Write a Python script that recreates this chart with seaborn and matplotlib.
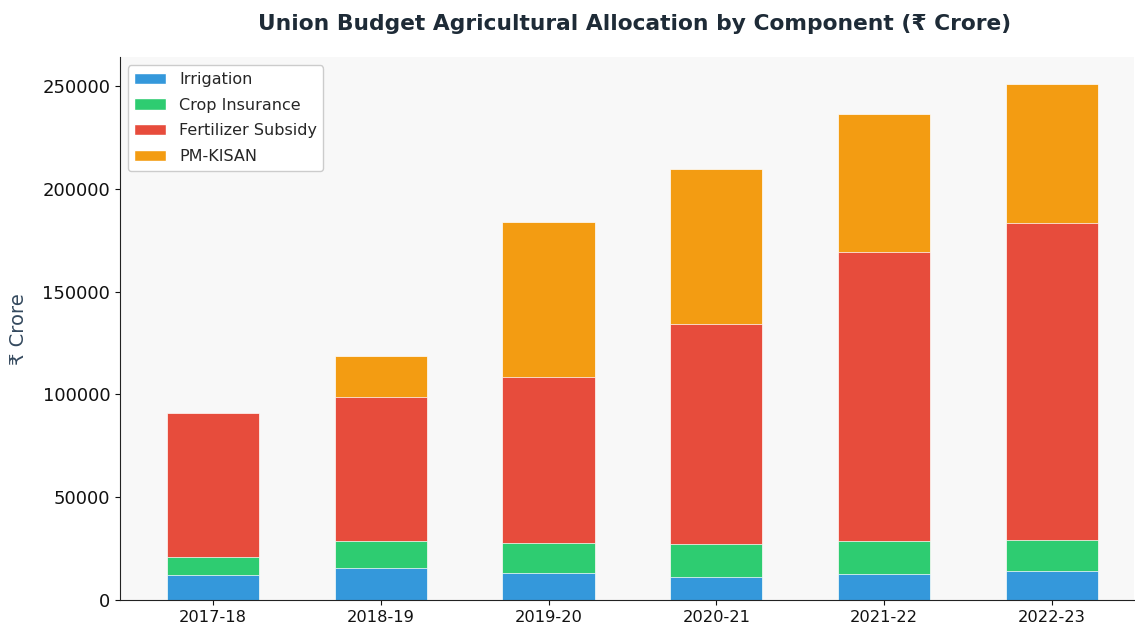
import matplotlib
matplotlib.use("Agg")
import matplotlib.pyplot as plt
import seaborn as sns
import numpy as np
import pandas as pd
from matplotlib.patches import Patch

years = ["2017-18", "2018-19", "2019-20", "2020-21", "2021-22", "2022-23"]
irrigation = [12000, 15800, 13200, 11200, 12700, 14000]
crop_insurance = [9000, 12700, 14500, 16000, 16000, 15200]
fertilizer_subsidy = [70000, 70300, 81000, 107000, 140400, 154000]
pm_kisan = [0, 20000, 75000, 75300, 67300, 68000]

series_names = ["Irrigation", "Crop Insurance", "Fertilizer Subsidy", "PM-KISAN"]
series_values = [irrigation, crop_insurance, fertilizer_subsidy, pm_kisan]
colors = ["#3498db", "#2ecc71", "#e74c3c", "#f39c12"]

sns.set_style("ticks")
plt.rcParams["font.family"] = ["DejaVu Sans"]

fig = plt.figure(figsize=(11.35, 6.28), dpi=100)
ax = fig.add_axes([0.1057, 0.0446, 0.8935, 0.864])
ax.set_facecolor("#f8f8f8")

cum = np.cumsum(np.array(series_values), axis=0)
# draw from the top layer down so each lower segment overlays the previous
for i in range(len(series_names) - 1, -1, -1):
    df = pd.DataFrame({"year": years, "value": cum[i]})
    sns.barplot(data=df, x="year", y="value", color=colors[i], width=0.55,
                saturation=1, edgecolor="white", linewidth=0.5, ax=ax)

ax.set_xlim(-0.555, 5.49)
ax.set_ylim(0, 264000)
ax.set_yticks([0, 50000, 100000, 150000, 200000, 250000])
ax.tick_params(axis="y", labelsize=13, colors="#111111")
ax.tick_params(axis="x", labelsize=11.7, colors="#111111")
ax.set_xlabel("")
ax.set_ylabel("₹ Crore", fontsize=14, color="#34495e", labelpad=10)
ax.set_title("Union Budget Agricultural Allocation by Component (₹ Crore)",
             fontsize=15.7, fontweight="bold", color="#1e2b37", pad=20, x=0.507)
sns.despine(ax=ax)
for s in ["left", "bottom"]:
    ax.spines[s].set_color("#222222")

handles = [Patch(facecolor=c, edgecolor="white", label=n) for c, n in zip(colors, series_names)]
ax.legend(handles=handles, loc="upper left", fontsize=11.5, frameon=True,
          facecolor="white", edgecolor="#cccccc", framealpha=1, labelspacing=0.68)

fig.savefig("out.png", dpi=100)
